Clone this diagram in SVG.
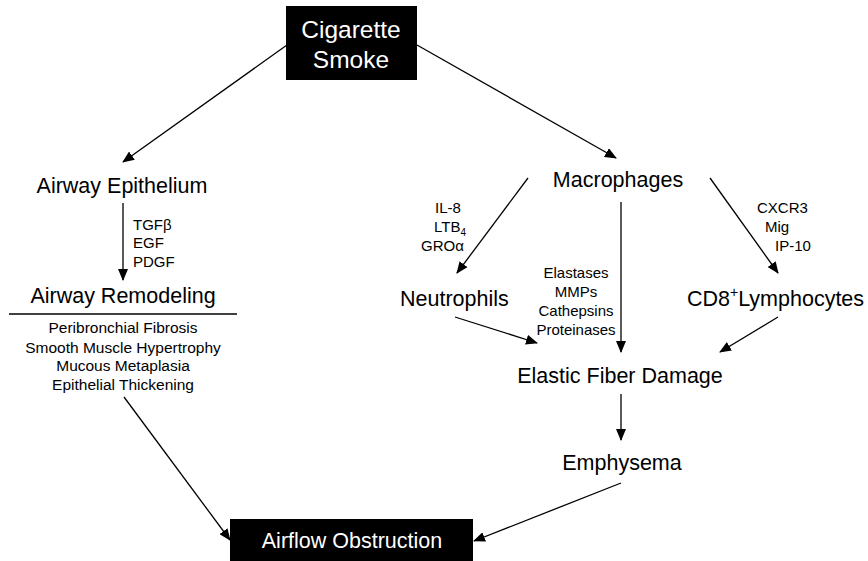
<svg xmlns="http://www.w3.org/2000/svg" width="868" height="561" viewBox="0 0 868 561">
<style>
text{font-family:"Liberation Sans",Arial,sans-serif;fill:#000}
.big{font-size:21.5px}
.sm{font-size:15px}
.lst{font-size:15.5px}
.wt{fill:#fff}
.c{text-anchor:middle}
.ln{stroke:#000;stroke-width:1.3;fill:none}
</style>
<defs>
<marker id="ah" markerWidth="12" markerHeight="10" refX="11" refY="5" orient="auto" markerUnits="userSpaceOnUse">
<path d="M0,0 L12,5 L0,10 z" fill="#000"/>
</marker>
</defs>
<rect width="868" height="561" fill="#fff"/>
<g id="smoke">
<rect x="286" y="6" width="131" height="74" fill="#000"/>
<text class="wt c" x="351" y="38" font-size="24.5">Cigarette</text>
<text class="wt c" x="351" y="68" font-size="24.5">Smoke</text>
</g>
<g id="epithelium"><text class="big c" x="122" y="193">Airway Epithelium</text></g>
<g id="remodeling">
<text class="big c" x="123" y="303">Airway Remodeling</text>
<line x1="9" y1="314" x2="237" y2="314" stroke="#000" stroke-width="1.5"/>
<text class="lst c" x="123" y="333">Peribronchial Fibrosis</text>
<text class="lst c" x="123" y="353">Smooth Muscle Hypertrophy</text>
<text class="lst c" x="123" y="371">Mucous Metaplasia</text>
<text class="lst c" x="123" y="390">Epithelial Thickening</text>
</g>
<g id="macrophages"><text class="big c" x="618" y="187">Macrophages</text></g>
<g id="neutrophils"><text class="big" x="400" y="306">Neutrophils</text></g>
<g id="cd8"><text class="big" x="687" y="306">CD8<tspan font-size="14" dy="-9">+</tspan><tspan dy="9">Lymphocytes</tspan></text></g>
<g id="elastic"><text class="big c" x="620" y="383">Elastic Fiber Damage</text></g>
<g id="emphysema"><text class="big c" x="622" y="470">Emphysema</text></g>
<g id="airflow">
<rect x="230" y="519" width="243" height="42" fill="#000"/>
<text class="wt c" x="352" y="548" font-size="21.5">Airflow Obstruction</text>
</g>
<g id="connectors">
<line class="ln" x1="287" y1="45" x2="123" y2="162" marker-end="url(#ah)"/>
<line class="ln" x1="417" y1="45" x2="616" y2="158" marker-end="url(#ah)"/>
<line class="ln" x1="123" y1="203" x2="123" y2="280" marker-end="url(#ah)"/>
<line class="ln" x1="124" y1="397" x2="230" y2="540" marker-end="url(#ah)"/>
<line class="ln" x1="528" y1="178" x2="457" y2="273" marker-end="url(#ah)"/>
<line class="ln" x1="621" y1="202" x2="621" y2="352" marker-end="url(#ah)"/>
<line class="ln" x1="710" y1="178" x2="778" y2="273" marker-end="url(#ah)"/>
<line class="ln" x1="455" y1="317" x2="537" y2="343" marker-end="url(#ah)"/>
<line class="ln" x1="778" y1="317" x2="720" y2="352" marker-end="url(#ah)"/>
<line class="ln" x1="621" y1="394" x2="621" y2="440" marker-end="url(#ah)"/>
<line class="ln" x1="621" y1="483" x2="474" y2="541" marker-end="url(#ah)"/>
</g>
<g id="labels">
<text class="sm" x="133" y="230">TGFβ</text>
<text class="sm" x="133" y="248">EGF</text>
<text class="sm" x="133" y="267">PDGF</text>
<text class="sm" x="435" y="213">IL-8</text>
<text class="sm" x="434" y="232">LTB<tspan font-size="10" dy="4">4</tspan></text>
<text class="sm" x="421" y="251">GROα</text>
<text class="sm c" x="576" y="278">Elastases</text>
<text class="sm c" x="576" y="297">MMPs</text>
<text class="sm c" x="576" y="316">Cathepsins</text>
<text class="sm c" x="576" y="335">Proteinases</text>
<text class="sm" x="757" y="213">CXCR3</text>
<text class="sm" x="765" y="232">Mig</text>
<text class="sm" x="775" y="251">IP-10</text>
</g>
</svg>
